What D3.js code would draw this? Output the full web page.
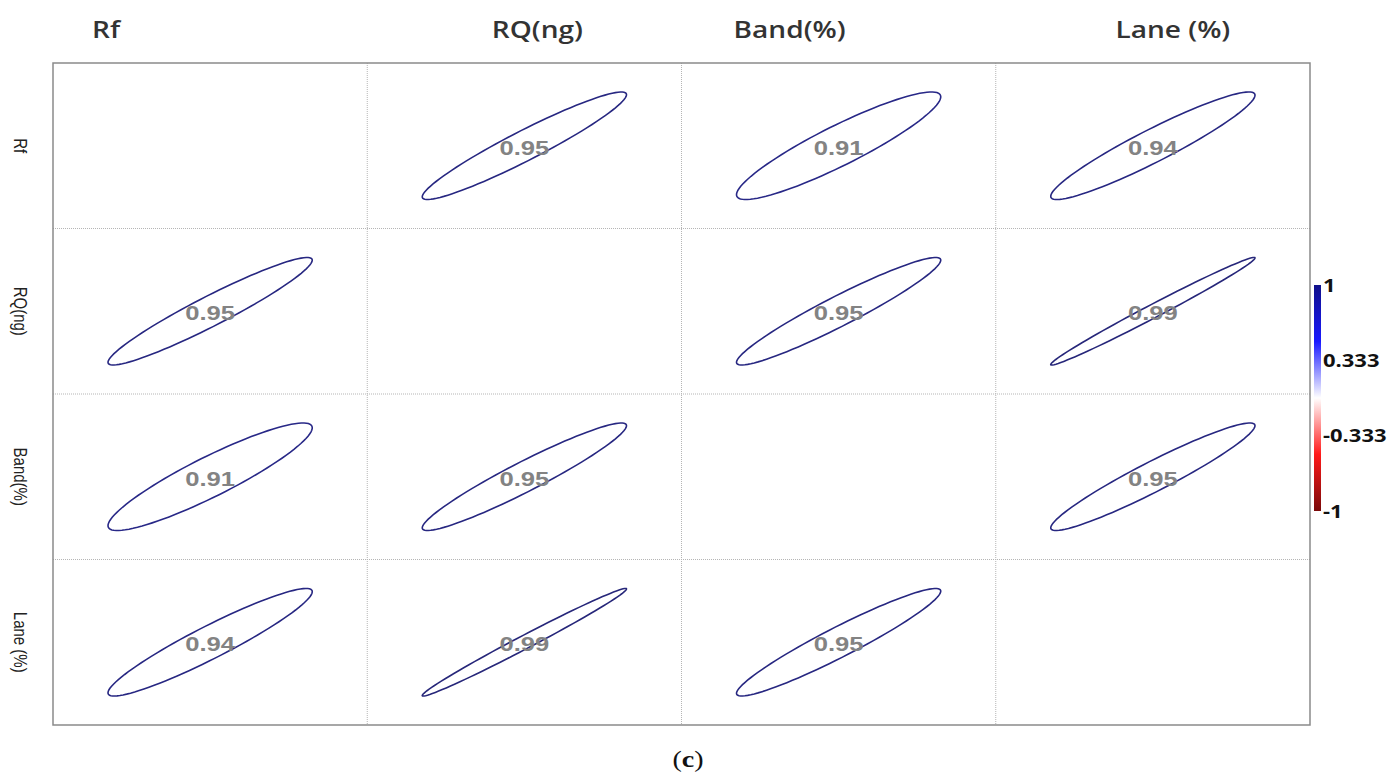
<!DOCTYPE html>
<html>
<head>
<meta charset="utf-8">
<script src="https://cdn.jsdelivr.net/npm/d3@7"></script>
<style>
  body { margin: 0; background: #fff; }
  svg { display: block; }
</style>
</head>
<body>
<svg id="chart" width="1390" height="773"></svg>
<script>
// variables and correlation matrix
const vars = ["Rf", "RQ(ng)", "Band(%)", "Lane (%)"];
const rowLabels = ["Rf", "RQ(ng)", "Band(%)", "Lane (%)"];
const corr = [
  [1.00, 0.95, 0.91, 0.94],
  [0.95, 1.00, 0.95, 0.99],
  [0.91, 0.95, 1.00, 0.95],
  [0.94, 0.99, 0.95, 1.00]
];
const legendTicks = [1, 0.333, -0.333, -1];
const legendStops = [-1, -0.5, 0, 0.5, 1];
const legendColors = ["#7a0a0a", "#ff1a1a", "#ffffff", "#1a1aff", "#10108a"];

const svg = d3.select("#chart");
const frame = { left: 53, top: 63, right: 1310, bottom: 725 };
// the source image is stretched sideways, so text is widened too
const stretch = 1.22;
// top label offsets relative to column centre (the source figure has them skewed)
const topOffsets = [-104, 13, -49, 20];

const x = d3.scaleBand().domain(d3.range(vars.length)).range([frame.left, frame.right]);
const y = d3.scaleBand().domain(d3.range(vars.length)).range([frame.top, frame.bottom]);
const color = d3.scaleLinear().domain(legendStops).range(legendColors);

// grid
const grid = svg.append("g");
d3.range(1, vars.length).forEach(i => {
  grid.append("line")
    .attr("x1", x(i)).attr("x2", x(i))
    .attr("y1", frame.top).attr("y2", frame.bottom)
    .attr("stroke", "#b5b5b5").attr("stroke-dasharray", "1,1");
  grid.append("line")
    .attr("y1", y(i)).attr("y2", y(i))
    .attr("x1", frame.left).attr("x2", frame.right)
    .attr("stroke", "#b5b5b5").attr("stroke-dasharray", "1,1");
});
svg.append("rect")
  .attr("x", frame.left).attr("y", frame.top)
  .attr("width", frame.right - frame.left).attr("height", frame.bottom - frame.top)
  .attr("fill", "none").attr("stroke", "#8a8a8a").attr("stroke-width", 1.5);

// ellipses (corrplot style)
function ellipsePath(r, cx, cy, sx, sy) {
  const d = Math.acos(r);
  const pts = d3.range(0, 101).map(k => {
    const t = k / 100 * 2 * Math.PI;
    return [cx + sx * Math.cos(t + d / 2), cy - sy * Math.cos(t - d / 2)];
  });
  return d3.line()(pts) + "Z";
}

const cells = [];
corr.forEach((row, i) => row.forEach((v, j) => { if (i !== j) cells.push({ i, j, v }); }));

const cellG = svg.append("g").selectAll("g").data(cells).enter().append("g");
cellG.append("path")
  .attr("d", d => {
    const cx = x(d.j) + x.bandwidth() / 2, cy = y(d.i) + y.bandwidth() / 2;
    return ellipsePath(d.v, cx, cy, x.bandwidth() * 0.325, y.bandwidth() * 0.325);
  })
  .attr("fill", "none")
  .attr("stroke", d => d3.interpolateRgb(color(d.v), "#555")(0.33))
  .attr("stroke-width", 1.6);
cellG.append("text")
  .attr("transform", d => `translate(${x(d.j) + x.bandwidth() / 2},${y(d.i) + y.bandwidth() / 2 + 2}) scale(${stretch},1)`)
  .attr("text-anchor", "middle")
  .attr("dominant-baseline", "central")
  .attr("font-family", "Liberation Sans, Arial, sans-serif")
  .attr("font-weight", "bold")
  .attr("font-size", 21)
  .attr("fill", "#838383")
  .text(d => d.v.toFixed(2));

// top labels
svg.append("g").selectAll("text").data(vars).enter().append("text")
  .attr("transform", (d, i) => `translate(${x(i) + x.bandwidth() / 2 + topOffsets[i]},38) scale(${stretch},1)`)
  .attr("text-anchor", "middle")
  .attr("font-family", "Open Sans, sans-serif")
  .attr("font-weight", 600)
  .attr("font-size", 23)
  .attr("fill", "#333")
  .text(d => d);

// left labels, rotated (stretch lands on glyph height)
svg.append("g").selectAll("text").data(rowLabels).enter().append("text")
  .attr("transform", (d, i) => `translate(20,${y(i) + y.bandwidth() / 2}) rotate(90) scale(1,${stretch})`)
  .attr("text-anchor", "middle")
  .attr("dominant-baseline", "central")
  .attr("font-family", "Liberation Sans, Arial, sans-serif")
  .attr("font-size", 15)
  .attr("fill", "#222")
  .text(d => d);

// colour legend
const lg = { x: 1314, w: 7, top: 285, bottom: 511 };
const ly = d3.scaleLinear().domain([1, -1]).range([lg.top, lg.bottom]);
const grad = svg.append("defs").append("linearGradient")
  .attr("id", "lgrad").attr("x1", 0).attr("x2", 0).attr("y1", 0).attr("y2", 1);
legendStops.slice().reverse().forEach(s => {
  grad.append("stop").attr("offset", (1 - s) / 2).attr("stop-color", color(s));
});
svg.append("rect")
  .attr("x", lg.x).attr("y", lg.top)
  .attr("width", lg.w).attr("height", lg.bottom - lg.top)
  .attr("fill", "url(#lgrad)");
svg.append("g").selectAll("text").data(legendTicks).enter().append("text")
  .attr("transform", d => `translate(${lg.x + lg.w + 2},${ly(d)}) scale(${stretch},1)`)
  .attr("dominant-baseline", "central")
  .attr("font-family", "Open Sans, sans-serif")
  .attr("font-weight", "bold")
  .attr("font-size", 18)
  .attr("fill", "#111")
  .text(d => String(d));

// caption
const cap = svg.append("text")
  .attr("transform", `translate(688,767) scale(${stretch},1)`)
  .attr("text-anchor", "middle")
  .attr("font-family", "Liberation Serif, DejaVu Serif, serif")
  .attr("font-size", 23)
  .attr("fill", "#111");
cap.append("tspan").text("(");
cap.append("tspan").attr("font-weight", "bold").text("c");
cap.append("tspan").text(")");
</script>
</body>
</html>
